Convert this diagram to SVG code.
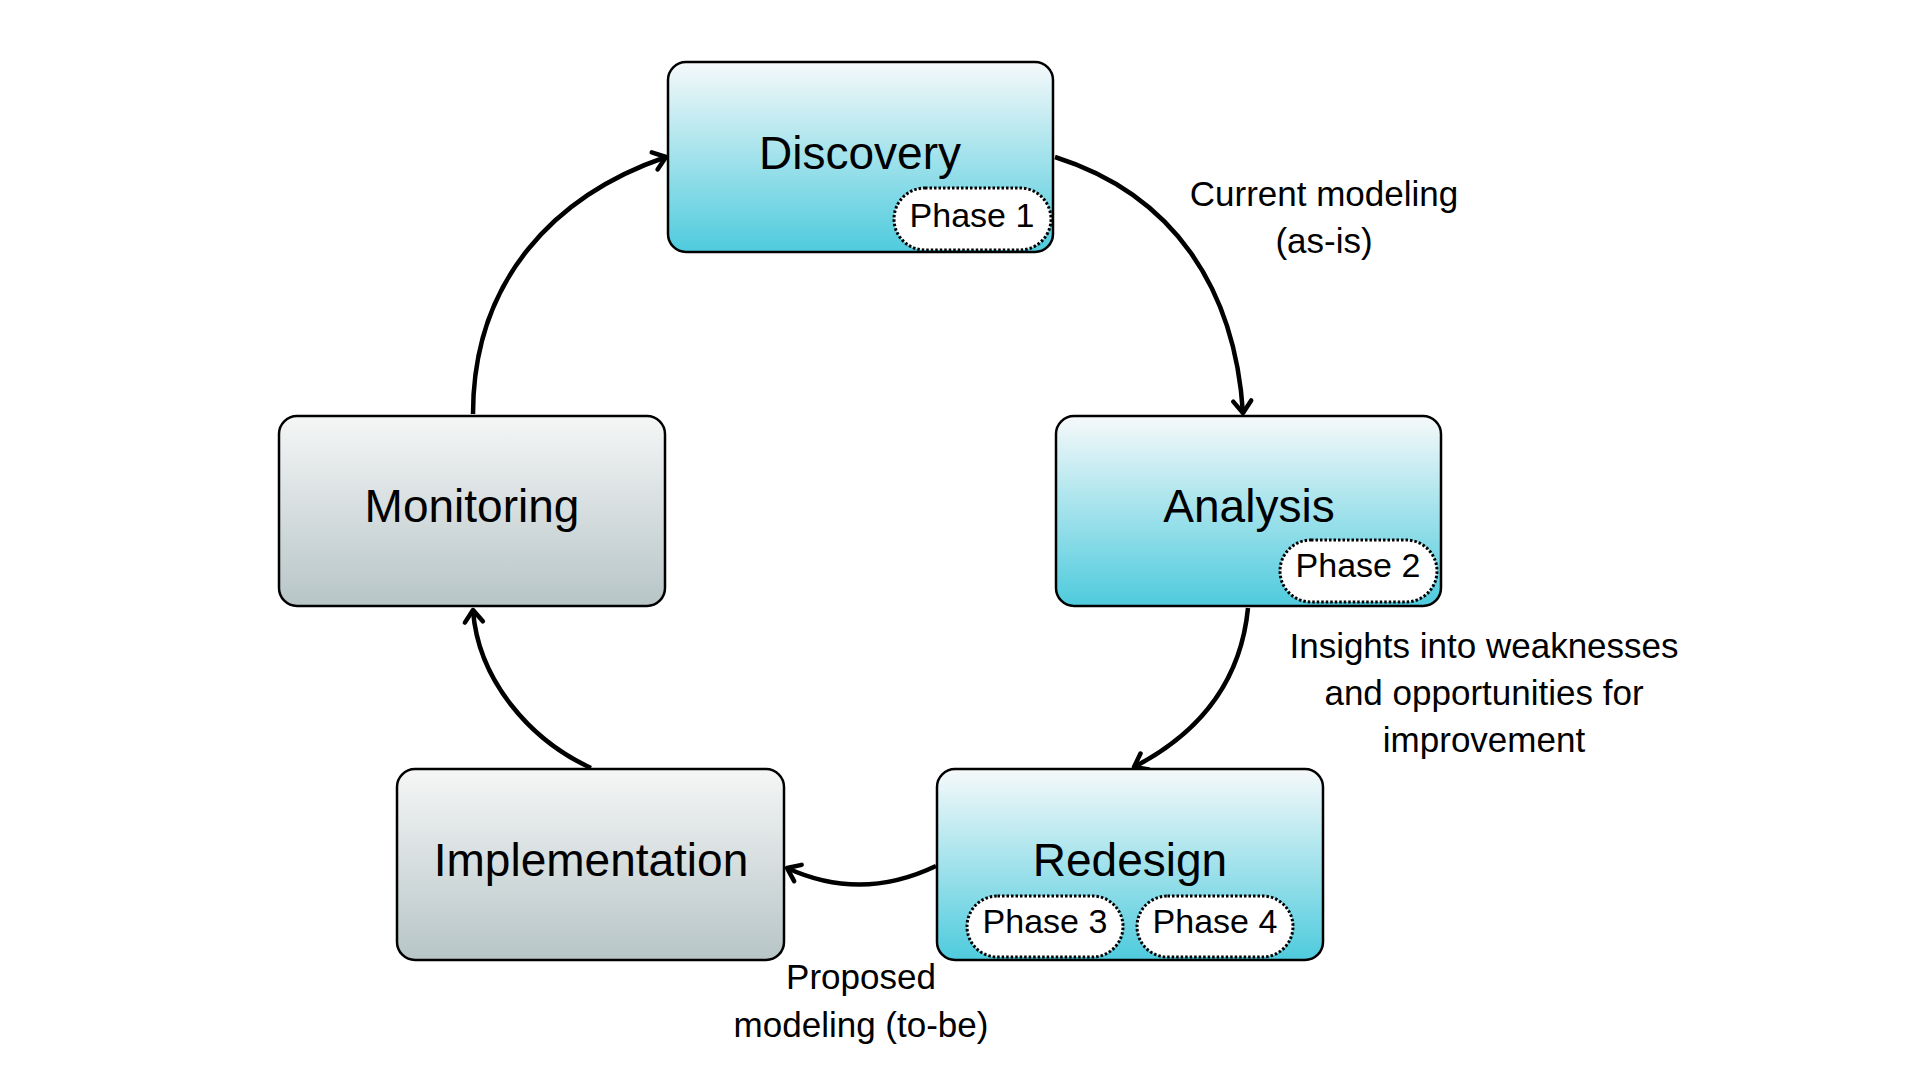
<svg xmlns="http://www.w3.org/2000/svg" width="1920" height="1080" viewBox="0 0 1920 1080">
<defs>
<linearGradient id="gCyan" x1="0" y1="0" x2="0" y2="1">
<stop offset="0" stop-color="#f6f9fa"/>
<stop offset="1" stop-color="#4ecbdd"/>
</linearGradient>
<linearGradient id="gGray" x1="0" y1="0" x2="0" y2="1">
<stop offset="0" stop-color="#f5f6f6"/>
<stop offset="1" stop-color="#b7c5c7"/>
</linearGradient>
<marker id="arr" viewBox="-18 -14 22 28" refX="0" refY="0" markerWidth="22" markerHeight="28" markerUnits="userSpaceOnUse" orient="auto">
<path d="M-12,-9 L0,0 L-12,9" fill="none" stroke="#000" stroke-width="4.5" stroke-linecap="round" stroke-linejoin="round"/>
</marker>
<style>
.box{stroke:#000;stroke-width:2.5}
.cyan{fill:url(#gCyan)}
.gray{fill:url(#gGray)}
.title{font-family:"Liberation Sans",Arial,sans-serif;font-size:46px;fill:#000;text-anchor:middle}
.pill{fill:#fff;stroke:#000;stroke-width:3;stroke-dasharray:2.5 2}
.ptext{font-family:"Liberation Sans",Arial,sans-serif;font-size:34px;fill:#000;text-anchor:middle}
.lbl{font-family:"Liberation Sans",Arial,sans-serif;font-size:35px;fill:#000;text-anchor:middle}
.conn{fill:none;stroke:#000;stroke-width:4.5;marker-end:url(#arr)}
</style>
</defs>
<rect width="1920" height="1080" fill="#fff"/>
<g id="connectors">
<path class="conn" d="M1055,157 C1175,195 1235,290 1243,413"/>
<path class="conn" d="M1248,608 C1240,690 1190,738 1134,767"/>
<path class="conn" d="M936,866 Q861,902 787,868"/>
<path class="conn" d="M591,768 C530,740 478,680 473,610"/>
<path class="conn" d="M473,414 C473,280 555,195 666,157"/>
</g>
<g id="discovery">
<rect class="box cyan" x="668" y="62" width="385" height="190" rx="18"/>
<text class="title" x="860" y="169">Discovery</text>
<rect class="pill" x="894" y="188" width="157" height="62" rx="31"/>
<text class="ptext" x="972" y="227">Phase 1</text>
</g>
<g id="analysis">
<rect class="box cyan" x="1056" y="416" width="385" height="190" rx="18"/>
<text class="title" x="1249" y="522">Analysis</text>
<rect class="pill" x="1280" y="540" width="157" height="62" rx="31"/>
<text class="ptext" x="1358" y="577">Phase 2</text>
</g>
<g id="redesign">
<rect class="box cyan" x="937" y="769" width="386" height="191" rx="18"/>
<text class="title" x="1130" y="876">Redesign</text>
<rect class="pill" x="967" y="896" width="156" height="61" rx="30.5"/>
<text class="ptext" x="1045" y="933">Phase 3</text>
<rect class="pill" x="1137" y="896" width="156" height="61" rx="30.5"/>
<text class="ptext" x="1215" y="933">Phase 4</text>
</g>
<g id="implementation">
<rect class="box gray" x="397" y="769" width="387" height="191" rx="18"/>
<text class="title" x="591" y="876">Implementation</text>
</g>
<g id="monitoring">
<rect class="box gray" x="279" y="416" width="386" height="190" rx="18"/>
<text class="title" x="472" y="522">Monitoring</text>
</g>
<g id="labels">
<text class="lbl" x="1324" y="206">Current modeling</text>
<text class="lbl" x="1324" y="253">(as-is)</text>
<text class="lbl" x="1484" y="658">Insights into weaknesses</text>
<text class="lbl" x="1484" y="705">and opportunities for</text>
<text class="lbl" x="1484" y="752">improvement</text>
<text class="lbl" x="861" y="989">Proposed</text>
<text class="lbl" x="861" y="1037">modeling (to-be)</text>
</g>
</svg>
